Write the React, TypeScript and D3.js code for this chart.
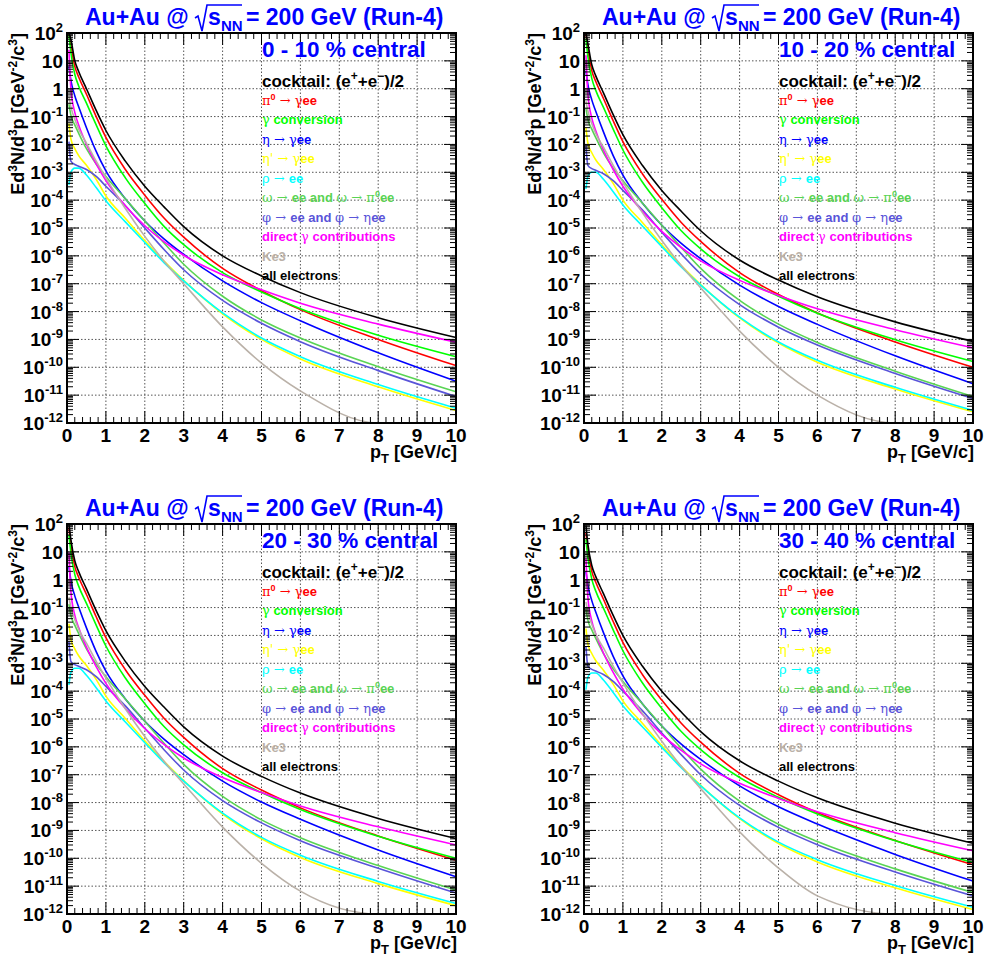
import React from 'react';
import * as d3 from 'd3';

const PT = [0.05, 0.1, 0.2, 0.3, 0.5, 0.75, 1, 1.5, 2, 2.5, 3, 4, 5, 6, 8, 10];

// All values are log10 of Ed3N/d3p [GeV^-2 c^3]
// ---- 0 - 10 % central ----
const c1_pi0 = [2.2, 1.55, 0.8, 0.42, -0.2, -1.0, -1.75, -2.9, -3.82, -4.65, -5.33, -6.45, -7.25, -7.93, -9.0, -9.94];
const c1_conv = [1.95, 1.3, 0.52, 0.1, -0.52, -1.3, -2.05, -3.2, -4.12, -4.95, -5.6, -6.6, -7.3, -7.9, -8.85, -9.62];
const c1_eta = [0.8, 0.3, -0.25, -0.65, -1.4, -2.25, -2.95, -3.95, -4.75, -5.4, -5.95, -6.9, -7.68, -8.33, -9.48, -10.5];
const c1_etap = [-1.25, -1.8, -2.15, -2.4, -2.75, -3.25, -3.85, -4.65, -5.45, -6.2, -6.88, -8.08, -9.0, -9.7, -10.7, -11.55];
const c1_rho = [-3.45, -3.0, -2.85, -2.85, -3.1, -3.55, -4.02, -4.78, -5.52, -6.25, -6.9, -8.05, -8.95, -9.62, -10.62, -11.47];
const c1_omega = [-0.55, -0.95, -1.3, -1.6, -2.15, -2.7, -3.15, -3.95, -4.75, -5.55, -6.3, -7.45, -8.3, -8.95, -9.98, -10.88];
const c1_phi = [-1.9, -2.6, -2.72, -2.78, -2.9, -3.15, -3.5, -4.2, -5.0, -5.78, -6.5, -7.6, -8.42, -9.08, -10.12, -11.05];
const c1_dirg = [1.4, 0.0, -0.85, -1.3, -2.0, -2.7, -3.3, -4.2, -4.92, -5.5, -5.98, -6.68, -7.22, -7.7, -8.45, -9.1];
const c1_ke3 = [-0.3, -0.65, -1.1, -1.45, -1.95, -2.6, -3.2, -4.3, -5.3, -6.2, -7.0, -8.55, -9.85, -10.85, -12.5, -13.9];
const c1_all = [2.45, 1.77, 1.01, 0.62, 0.0, -0.78, -1.5, -2.6, -3.5, -4.25, -4.95, -6.0, -6.72, -7.32, -8.22, -8.93];

// ---- 10 - 20 % central ----
const c2_pi0 = [2.05, 1.4, 0.65, 0.27, -0.35, -1.15, -1.9, -3.05, -3.97, -4.8, -5.48, -6.6, -7.39, -8.05, -9.09, -10.0];
const c2_conv = [1.8, 1.15, 0.37, -0.05, -0.67, -1.45, -2.2, -3.35, -4.27, -5.1, -5.75, -6.75, -7.45, -8.06, -9.01, -9.79];
const c2_eta = [0.65, 0.15, -0.4, -0.8, -1.55, -2.4, -3.1, -4.1, -4.9, -5.55, -6.1, -7.05, -7.82, -8.46, -9.59, -10.59];
const c2_etap = [-1.4, -1.95, -2.3, -2.55, -2.9, -3.4, -4.0, -4.8, -5.6, -6.35, -7.03, -8.23, -9.13, -9.82, -10.78, -11.6];
const c2_rho = [-3.6, -3.15, -3.0, -3.0, -3.25, -3.7, -4.17, -4.93, -5.67, -6.4, -7.05, -8.2, -9.09, -9.75, -10.72, -11.55];
const c2_omega = [-0.7, -1.1, -1.45, -1.75, -2.3, -2.85, -3.3, -4.1, -4.9, -5.7, -6.45, -7.6, -8.45, -9.11, -10.14, -11.05];
const c2_phi = [-2.05, -2.75, -2.87, -2.93, -3.05, -3.3, -3.65, -4.35, -5.15, -5.93, -6.65, -7.75, -8.56, -9.2, -10.22, -11.12];
const c2_dirg = [1.2, -0.2, -1.05, -1.5, -2.2, -2.9, -3.5, -4.4, -5.12, -5.7, -6.18, -6.88, -7.42, -7.9, -8.65, -9.3];
const c2_ke3 = [-0.45, -0.8, -1.25, -1.6, -2.1, -2.75, -3.35, -4.45, -5.45, -6.35, -7.15, -8.7, -10.0, -11.0, -12.65, -14.05];
const c2_all = [2.3, 1.62, 0.86, 0.47, -0.15, -0.93, -1.65, -2.75, -3.65, -4.4, -5.1, -6.15, -6.87, -7.47, -8.37, -9.07];

// ---- 20 - 30 % central ----
const c3_pi0 = [1.87, 1.22, 0.47, 0.09, -0.53, -1.33, -2.08, -3.23, -4.15, -4.98, -5.66, -6.78, -7.55, -8.19, -9.2, -10.07];
const c3_conv = [1.62, 0.97, 0.19, -0.23, -0.85, -1.63, -2.38, -3.53, -4.45, -5.28, -5.93, -6.93, -7.64, -8.25, -9.21, -10.0];
const c3_eta = [0.47, -0.03, -0.58, -0.98, -1.73, -2.58, -3.28, -4.28, -5.08, -5.73, -6.28, -7.23, -7.98, -8.6, -9.7, -10.66];
const c3_etap = [-1.58, -2.13, -2.48, -2.73, -3.08, -3.58, -4.18, -4.98, -5.78, -6.53, -7.21, -8.41, -9.3, -9.97, -10.91, -11.7];
const c3_rho = [-3.78, -3.33, -3.18, -3.18, -3.43, -3.88, -4.35, -5.11, -5.85, -6.58, -7.23, -8.38, -9.25, -9.89, -10.83, -11.62];
const c3_omega = [-0.88, -1.28, -1.63, -1.93, -2.48, -3.03, -3.48, -4.28, -5.08, -5.88, -6.63, -7.78, -8.62, -9.26, -10.26, -11.14];
const c3_phi = [-2.23, -2.93, -3.05, -3.11, -3.23, -3.48, -3.83, -4.53, -5.33, -6.11, -6.83, -7.93, -8.73, -9.37, -10.36, -11.25];
const c3_dirg = [0.98, -0.42, -1.27, -1.72, -2.42, -3.12, -3.72, -4.62, -5.34, -5.92, -6.4, -7.1, -7.64, -8.12, -8.87, -9.52];
const c3_ke3 = [-0.63, -0.98, -1.43, -1.78, -2.28, -2.93, -3.53, -4.63, -5.63, -6.53, -7.33, -8.88, -10.18, -11.18, -12.83, -14.23];
const c3_all = [2.12, 1.44, 0.68, 0.29, -0.33, -1.11, -1.83, -2.93, -3.83, -4.58, -5.28, -6.33, -7.06, -7.66, -8.57, -9.29];

// ---- 30 - 40 % central ----
const c4_pi0 = [1.7, 1.05, 0.3, -0.08, -0.7, -1.5, -2.25, -3.4, -4.32, -5.15, -5.83, -6.95, -7.72, -8.36, -9.36, -10.23];
const c4_conv = [1.45, 0.8, 0.02, -0.4, -1.02, -1.8, -2.55, -3.7, -4.62, -5.45, -6.1, -7.1, -7.81, -8.41, -9.37, -10.15];
const c4_eta = [0.3, -0.2, -0.75, -1.15, -1.9, -2.75, -3.45, -4.45, -5.25, -5.9, -6.45, -7.4, -8.15, -8.77, -9.86, -10.82];
const c4_etap = [-1.75, -2.3, -2.65, -2.9, -3.25, -3.75, -4.35, -5.15, -5.95, -6.7, -7.38, -8.58, -9.47, -10.13, -11.06, -11.84];
const c4_rho = [-3.95, -3.5, -3.35, -3.35, -3.6, -4.05, -4.52, -5.28, -6.02, -6.75, -7.4, -8.55, -9.42, -10.05, -10.98, -11.76];
const c4_omega = [-1.05, -1.45, -1.8, -2.1, -2.65, -3.2, -3.65, -4.45, -5.25, -6.05, -6.8, -7.95, -8.78, -9.4, -10.38, -11.23];
const c4_phi = [-2.4, -3.1, -3.22, -3.28, -3.4, -3.65, -4.0, -4.7, -5.5, -6.28, -7.0, -8.1, -8.89, -9.51, -10.49, -11.35];
const c4_dirg = [0.77, -0.63, -1.48, -1.93, -2.63, -3.33, -3.93, -4.83, -5.55, -6.13, -6.61, -7.31, -7.85, -8.33, -9.08, -9.73];
const c4_ke3 = [-0.8, -1.15, -1.6, -1.95, -2.45, -3.1, -3.7, -4.8, -5.8, -6.7, -7.5, -9.05, -10.35, -11.35, -13.0, -14.4];
const c4_all = [1.95, 1.27, 0.51, 0.12, -0.5, -1.28, -2.0, -3.1, -4.0, -4.75, -5.45, -6.5, -7.23, -7.83, -8.74, -9.46];

const CENTRALITY = ['0 - 10 % central', '10 - 20 % central', '20 - 30 % central', '30 - 40 % central'];
const X_TICKS = [0, 1, 2, 3, 4, 5, 6, 7, 8, 9, 10];
const Y_EXPONENTS = [-12, -11, -10, -9, -8, -7, -6, -5, -4, -3, -2, -1, 0, 1, 2];

const SERIES_COLORS = ['#ff0000', '#00ff00', '#0000ff', '#ffff00', '#00ffff', '#59d454', '#5954d9', '#ff00ff', '#bab1a8', '#000000'];

const PANEL_DATA = [
  [c1_pi0, c1_conv, c1_eta, c1_etap, c1_rho, c1_omega, c1_phi, c1_dirg, c1_ke3, c1_all],
  [c2_pi0, c2_conv, c2_eta, c2_etap, c2_rho, c2_omega, c2_phi, c2_dirg, c2_ke3, c2_all],
  [c3_pi0, c3_conv, c3_eta, c3_etap, c3_rho, c3_omega, c3_phi, c3_dirg, c3_ke3, c3_all],
  [c4_pi0, c4_conv, c4_eta, c4_etap, c4_rho, c4_omega, c4_phi, c4_dirg, c4_ke3, c4_all],
];

const W = 389;
const H = 390;
const ORIGINS: [number, number][] = [[67, 33], [584, 33], [67, 524], [584, 524]];
const SANS = 'Liberation Sans, Arial, Helvetica, sans-serif';
const SERIF = 'DejaVu Serif, Liberation Serif, serif';

function LegendEntry({ i, x, y }: { i: number; x: number; y: number }) {
  const color = SERIES_COLORS[i];
  const g = (s: string) => <tspan fontFamily={SERIF} fontWeight="normal">{s}</tspan>;
  let content: React.ReactNode = null;
  switch (i) {
    case 0:
      content = (<>{g('π')}<tspan dy={-5} fontSize={9}>0</tspan><tspan dy={5} fontFamily={SERIF} fontWeight="normal">{' → γ'}</tspan>ee</>);
      break;
    case 1:
      content = (<>{g('γ')} conversion</>);
      break;
    case 2:
      content = (<>{g('η → γ')}ee</>);
      break;
    case 3:
      content = (<>{g("η' → γ")}ee</>);
      break;
    case 4:
      content = (<>{g('ρ → ')}ee</>);
      break;
    case 5:
      content = (<>{g('ω → ')}ee and {g('ω → π')}<tspan dy={-5} fontSize={9}>0</tspan><tspan dy={5}>ee</tspan></>);
      break;
    case 6:
      content = (<>{g('φ → ')}ee and {g('φ → η')}ee</>);
      break;
    case 7:
      content = (<>direct {g('γ')} contributions</>);
      break;
    case 8:
      content = 'Ke3';
      break;
    default:
      content = 'all electrons';
  }
  return (
    <text x={x} y={y} fill={color} fontFamily={SANS} fontWeight="bold" fontSize={13}>
      {content}
    </text>
  );
}

function Panel({ idx }: { idx: number }) {
  const [L, T] = ORIGINS[idx];
  const x = d3.scaleLinear().domain([0, 10]).range([L, L + W]);
  const y = d3.scaleLog().domain([1e-12, 1e2]).range([T + H, T]).clamp(true);
  const B = T + H;
  const R = L + W;

  const line = d3
    .line<[number, number]>()
    .x((d) => x(d[0]))
    .y((d) => y(Math.pow(10, d[1])))
    .curve(d3.curveMonotoneX);

  const minorX = d3.range(0, 10.0001, 0.2).filter((v) => Math.abs(v - Math.round(v)) > 1e-6);
  const minorY: number[] = [];
  for (let e = -12; e < 2; e++) for (let m = 2; m <= 9; m++) minorY.push(m * Math.pow(10, e));

  const gridX = X_TICKS.filter((v) => v > 0 && v < 10);
  const gridY = Y_EXPONENTS.filter((e) => e > -12 && e < 2);

  const data = PANEL_DATA[idx];

  return (
    <g>
      {gridX.map((v) => (
        <line key={'gx' + v} x1={x(v)} x2={x(v)} y1={T} y2={B} stroke="#555" strokeWidth={1} strokeDasharray="1.5,2" />
      ))}
      {gridY.map((e) => (
        <line key={'gy' + e} x1={L} x2={R} y1={y(Math.pow(10, e))} y2={y(Math.pow(10, e))} stroke="#555" strokeWidth={1} strokeDasharray="1.5,2" />
      ))}

      {data.map((vals, si) => (
        <path
          key={'s' + si}
          d={line(PT.map((p, k) => [p, vals[k]] as [number, number])) || ''}
          fill="none"
          stroke={SERIES_COLORS[si]}
          strokeWidth={1.6}
        />
      ))}

      {X_TICKS.map((v) => (
        <g key={'xt' + v}>
          <line x1={x(v)} x2={x(v)} y1={B} y2={B - 12} stroke="#000" strokeWidth={1} />
          <line x1={x(v)} x2={x(v)} y1={T} y2={T + 12} stroke="#000" strokeWidth={1} />
        </g>
      ))}
      {minorX.map((v) => (
        <g key={'xm' + v}>
          <line x1={x(v)} x2={x(v)} y1={B} y2={B - 6} stroke="#000" strokeWidth={1} />
          <line x1={x(v)} x2={x(v)} y1={T} y2={T + 6} stroke="#000" strokeWidth={1} />
        </g>
      ))}
      {Y_EXPONENTS.map((e) => (
        <g key={'yt' + e}>
          <line x1={L} x2={L + 12} y1={y(Math.pow(10, e))} y2={y(Math.pow(10, e))} stroke="#000" strokeWidth={1} />
          <line x1={R} x2={R - 12} y1={y(Math.pow(10, e))} y2={y(Math.pow(10, e))} stroke="#000" strokeWidth={1} />
        </g>
      ))}
      {minorY.map((v, k) => (
        <g key={'ym' + k}>
          <line x1={L} x2={L + 6} y1={y(v)} y2={y(v)} stroke="#000" strokeWidth={1} />
          <line x1={R} x2={R - 6} y1={y(v)} y2={y(v)} stroke="#000" strokeWidth={1} />
        </g>
      ))}

      <rect x={L} y={T} width={W} height={H} fill="none" stroke="#000" strokeWidth={2} />

      {X_TICKS.map((v) => (
        <text key={'xl' + v} x={x(v)} y={B + 19} textAnchor="middle" fontFamily={SANS} fontWeight="bold" fontSize={19}>
          {v}
        </text>
      ))}
      {Y_EXPONENTS.map((e) => (
        <text key={'yl' + e} x={L - 4} y={y(Math.pow(10, e)) + 7} textAnchor="end" fontFamily={SANS} fontWeight="bold" fontSize={19}>
          {e === 0 ? '1' : e === 1 ? '10' : (<>10<tspan dy={-8} fontSize={13}>{String(e)}</tspan></>)}
        </text>
      ))}

      <text x={R + 1} y={B + 35} textAnchor="end" fontFamily={SANS} fontWeight="bold" fontSize={18}>
        p<tspan dy={5} fontSize={13}>T</tspan><tspan dy={-5}> [GeV/c]</tspan>
      </text>
      <text transform={`translate(${L - 43},${T}) rotate(-90)`} textAnchor="end" fontFamily={SANS} fontWeight="bold" fontSize={18}>
        Ed<tspan dy={-7} fontSize={12}>3</tspan><tspan dy={7}>N/d</tspan><tspan dy={-7} fontSize={12}>3</tspan><tspan dy={7}>p [GeV</tspan><tspan dy={-7} fontSize={12}>-2</tspan><tspan dy={7}>/c</tspan><tspan dy={-7} fontSize={12}>3</tspan><tspan dy={7}>]</tspan>
      </text>

      <g fill="#0000ff" fontFamily={SANS} fontWeight="bold">
        <text x={L + 18} y={T - 8} fontSize={23}>Au+Au @</text>
        <path
          d={`M${L + 128},${T - 15} L${L + 131},${T - 17} L${L + 135},${T - 2} L${L + 140},${T - 28} L${L + 175},${T - 28}`}
          fill="none"
          stroke="#0000ff"
          strokeWidth={1.6}
        />
        <text x={L + 141} y={T - 8} fontSize={23}>s</text>
        <text x={L + 154} y={T - 2} fontSize={15}>NN</text>
        <text x={L + 179} y={T - 8} fontSize={23}>= 200 GeV (Run-4)</text>
      </g>

      <text x={L + 195} y={T + 24} fill="#0000ff" fontFamily={SANS} fontWeight="bold" fontSize={22.5}>
        {CENTRALITY[idx]}
      </text>
      <text x={L + 195} y={T + 54} fill="#000" fontFamily={SANS} fontWeight="bold" fontSize={17}>
        cocktail: (e<tspan dy={-7} fontSize={12}>+</tspan><tspan dy={7}>+e</tspan><tspan dy={-7} fontSize={12}>−</tspan><tspan dy={7}>)/2</tspan>
      </text>
      {SERIES_COLORS.map((_, i) => (
        <LegendEntry key={'lg' + i} i={i} x={L + 195} y={T + 72 + i * 19.45} />
      ))}
    </g>
  );
}

export default function App() {
  return (
    <svg
      width={986}
      height={958}
      viewBox="0 0 986 958"
      style={{ position: 'absolute', left: 0, top: 0, background: '#fff' }}
    >
      <rect x={0} y={0} width={986} height={958} fill="#fff" />
      {[0, 1, 2, 3].map((i) => (
        <Panel key={i} idx={i} />
      ))}
    </svg>
  );
}
